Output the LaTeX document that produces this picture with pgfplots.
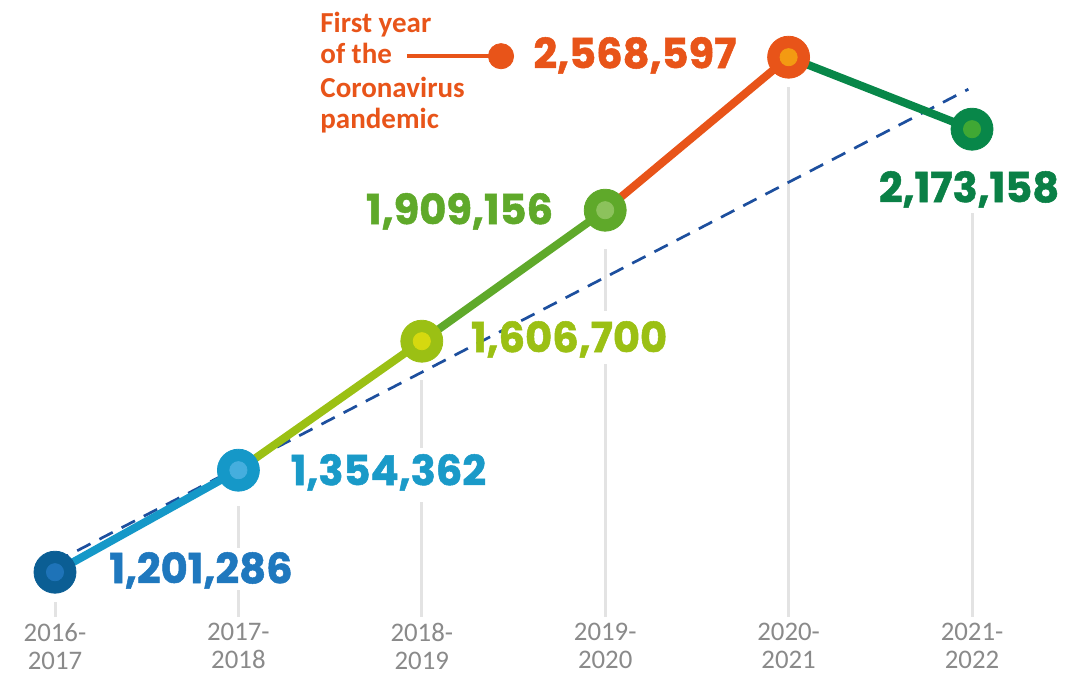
\documentclass[border=0pt]{standalone}
\usepackage{pgfplots}
\pgfplotsset{compat=1.18}
\usepackage{fontspec}
\setmainfont{Carlito}
\newfontfamily\numfont{Poppins}[BoldFeatures={FakeBold=1.2}]
\definecolor{cA}{HTML}{0B5E94}\definecolor{cAi}{HTML}{1E73B8}
\definecolor{cB}{HTML}{1598C8}\definecolor{cBi}{HTML}{45AEDE}
\definecolor{cC}{HTML}{9BC014}\definecolor{cCi}{HTML}{D6D90F}
\definecolor{cD}{HTML}{5FA92A}\definecolor{cDi}{HTML}{8CC25C}
\definecolor{cE}{HTML}{E85419}\definecolor{cEi}{HTML}{F39A12}
\definecolor{cF}{HTML}{088749}\definecolor{cFi}{HTML}{40A834}
\definecolor{lA}{HTML}{1F78BE}\definecolor{lB}{HTML}{1A9AC8}
\definecolor{lF}{HTML}{0A8046}
\definecolor{trendc}{HTML}{1D4F9E}
\definecolor{gridg}{HTML}{E3E3E3}
\definecolor{tickg}{HTML}{8A8A8A}
\newcommand\numlab{\numfont\bfseries\fontsize{20.8}{22}\selectfont}
\pgfplotsset{dot/.style 2 args={only marks, mark=*, color=#1, mark size=#2, mark options={solid, draw=#1, fill=#1}}}
\begin{document}
\begin{tikzpicture}
\begin{axis}[
  scale only axis, width=540.5pt, height=337.5pt,
  xmin=-0.2999, xmax=5.5943, ymin=0, ymax=675,
  axis line style={draw=none}, ytick=\empty,
  xtick={0,1,2,3,4,5},
  xticklabels={{2016-\\2017},{2017-\\2018},{2018-\\2019},{2019-\\2020},{2020-\\2021},{2021-\\2022}},
  major tick length=0pt,
  xticklabel style={anchor=north, inner sep=0pt, yshift=26pt, align=center,
    font=\fontsize{13.4}{14}\selectfont, text=tickg},
  clip=false,
]
% gray guide lines
\draw[gridg, line width=1.5pt] (axis cs:0,73) -- (axis cs:0,58);
\draw[gridg, line width=1.5pt] (axis cs:1,169) -- (axis cs:1,127);
\draw[gridg, line width=1.5pt] (axis cs:1,85) -- (axis cs:1,58);
\draw[gridg, line width=1.5pt] (axis cs:2,295) -- (axis cs:2,227);
\draw[gridg, line width=1.5pt] (axis cs:2,173) -- (axis cs:2,58);
\draw[gridg, line width=1.5pt] (axis cs:3,426) -- (axis cs:3,364);
\draw[gridg, line width=1.5pt] (axis cs:3,311) -- (axis cs:3,58);
\draw[gridg, line width=1.5pt] (axis cs:4,588) -- (axis cs:4,58);
\draw[gridg, line width=1.5pt] (axis cs:5,462) -- (axis cs:5,58);
% trend line
\addplot[trendc, line width=1.35pt, dash pattern=on 7.5pt off 5pt] coordinates {(0,113) (4.98,586)};
% segments (visual positions; values: 1201286, 1354362, 1606700, 1909156, 2568597, 2173158)
\addplot[cB, line width=4pt] coordinates {(0,103) (1,205)};
\addplot[cC, line width=4pt] coordinates {(1,205) (2,334)};
\addplot[cD, line width=4pt] coordinates {(2,334) (3,465)};
\addplot[cE, line width=4pt] coordinates {(3,465) (4,618)};
\addplot[cF, line width=4pt] coordinates {(4,618) (5,546)};
% circles
\addplot[dot={cA}{10.5pt}] coordinates {(0,103)};
\addplot[dot={cAi}{4.3pt}] coordinates {(0,103)};
\addplot[dot={cB}{10.5pt}] coordinates {(1,205)};
\addplot[dot={cBi}{4.3pt}] coordinates {(1,205)};
\addplot[dot={cC}{10.5pt}] coordinates {(2,334)};
\addplot[dot={cCi}{4.3pt}] coordinates {(2,334)};
\addplot[dot={cD}{10.5pt}] coordinates {(3,465)};
\addplot[dot={cDi}{4.3pt}] coordinates {(3,465)};
\addplot[dot={cE}{10.5pt}] coordinates {(4,618)};
\addplot[dot={cEi}{4.3pt}] coordinates {(4,618)};
\addplot[dot={cF}{10.5pt}] coordinates {(5,546)};
\addplot[dot={cFi}{4.3pt}] coordinates {(5,546)};
% annotation connector
\addplot[cE, line width=2pt] coordinates {(1.919,619) (2.432,619)};
\addplot[dot={cE}{6.3pt}] coordinates {(2.432,619)};
% value labels
\node[anchor=base, text=lA, inner sep=0pt] at (axis cs:0.796,92) {\numlab 1,201,286};
\node[anchor=base, text=lB, inner sep=0pt] at (axis cs:1.818,190) {\numlab 1,354,362};
\node[anchor=base, text=cC, inner sep=0pt] at (axis cs:2.803,323) {\numlab 1,606,700};
\node[anchor=base, text=cD, inner sep=0pt] at (axis cs:2.206,451) {\numlab 1,909,156};
\node[anchor=base, text=cE, inner sep=0pt] at (axis cs:3.162,607) {\numlab 2,568,597};
\node[anchor=base, text=lF, inner sep=0pt] at (axis cs:4.984,473) {\numlab 2,173,158};
% annotation text
\begin{scope}[every node/.style={anchor=base west, inner sep=0pt, text=cE, font=\bfseries\fontsize{14.5}{16}\selectfont}]
\node at (axis cs:1.445,643) {First year};
\node at (axis cs:1.445,612) {of the};
\node at (axis cs:1.445,578) {Coronavirus};
\node at (axis cs:1.445,547) {pandemic};
\end{scope}
\end{axis}
\end{tikzpicture}
\end{document}
